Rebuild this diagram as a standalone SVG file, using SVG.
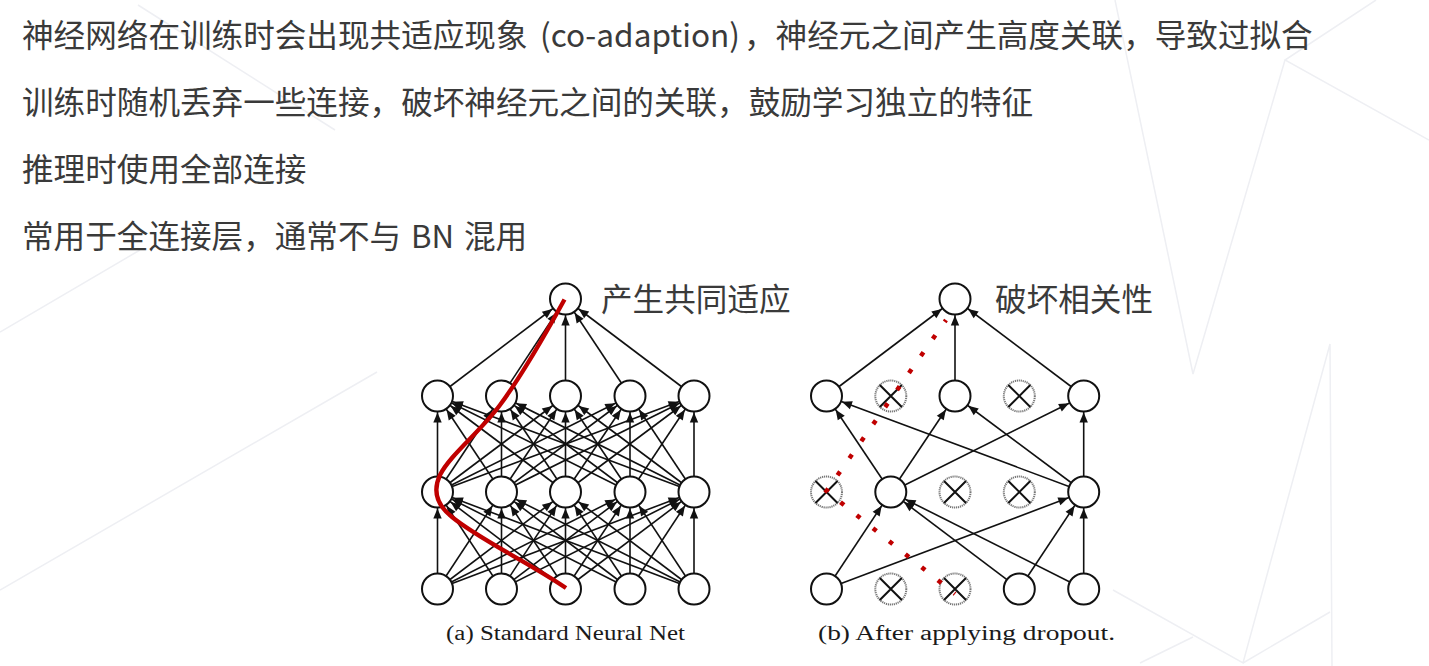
<svg xmlns="http://www.w3.org/2000/svg" width="1429" height="666" viewBox="0 0 1429 666">
<defs>
<style>
.bg{stroke:#eeeff3;stroke-width:1.5;fill:none}
.t{font-family:"Noto Sans CJK SC","Microsoft YaHei",sans-serif;font-size:31.6px;fill:#3a3a3a}
.cap{font-family:"Liberation Serif","Times New Roman",serif;font-size:20.5px;fill:#1a1a1a}
.e{stroke:#111;stroke-width:1.6;marker-end:url(#ah)}
.n{fill:#fff;stroke:#111;stroke-width:2}
.d{fill:#fff;stroke:#777;stroke-width:2;stroke-dasharray:1.2 0.8}
.x{stroke:#111;stroke-width:2}
</style>
<marker id="ah" markerUnits="userSpaceOnUse" markerWidth="40" markerHeight="20" refX="0" refY="0" orient="auto" overflow="visible">
<path d="M-26.5,-4.2 L-16.5,0 L-26.5,4.2 z" fill="#111"/>
</marker>
</defs>
<rect width="1429" height="666" fill="#fff"/>
<g id="background">
<path class="bg" d="M1376,0 L1285,60 L1429,140"/>
<path class="bg" d="M1285,60 L1193,374 L1115,0"/>
<path class="bg" d="M1332,666 L1330,344 L1243,663 L1113,590"/>
<path class="bg" d="M1243,663 L1330,612"/>
<path class="bg" d="M1140,663 L1193,637"/>
<path class="bg" d="M0,332 L140,250"/>
<path class="bg" d="M0,590 L377,372"/>
<path class="bg" d="M138,5 L335,130"/>
</g>
<g id="text">
<text class="t" x="22" y="47">神经网络在训练时会出现共适应现象</text>
<text class="t" x="540" y="47" textLength="200" lengthAdjust="spacingAndGlyphs">(co-adaption)</text>
<text class="t" x="744" y="47">，神经元之间产生高度关联，导致过拟合</text>
<text class="t" x="22" y="114">训练时随机丢弃一些连接，破坏神经元之间的关联，鼓励学习独立的特征</text>
<text class="t" x="22" y="181">推理时使用全部连接</text>
<text class="t" x="22" y="248">常用于全连接层，通常不与</text>
<text class="t" x="411" y="248" textLength="43" lengthAdjust="spacingAndGlyphs">BN</text>
<text class="t" x="464" y="248">混用</text>
<text class="t" x="601" y="311">产生共同适应</text>
<text class="t" x="995" y="311">破坏相关性</text>
<text class="cap" x="446" y="640" textLength="239" lengthAdjust="spacingAndGlyphs">(a) Standard Neural Net</text>
<text class="cap" x="818" y="640" textLength="297" lengthAdjust="spacingAndGlyphs">(b) After applying dropout.</text>
</g>
<g id="connectors">
<line class="e" x1="437.5" y1="396" x2="565.5" y2="299"/>
<line class="e" x1="501.5" y1="396" x2="565.5" y2="299"/>
<line class="e" x1="565.5" y1="396" x2="565.5" y2="299"/>
<line class="e" x1="630" y1="396" x2="565.5" y2="299"/>
<line class="e" x1="694" y1="396" x2="565.5" y2="299"/>
<line class="e" x1="437.5" y1="492" x2="437.5" y2="396"/>
<line class="e" x1="437.5" y1="492" x2="501.5" y2="396"/>
<line class="e" x1="437.5" y1="492" x2="565.5" y2="396"/>
<line class="e" x1="437.5" y1="492" x2="630" y2="396"/>
<line class="e" x1="437.5" y1="492" x2="694" y2="396"/>
<line class="e" x1="501.5" y1="492" x2="437.5" y2="396"/>
<line class="e" x1="501.5" y1="492" x2="501.5" y2="396"/>
<line class="e" x1="501.5" y1="492" x2="565.5" y2="396"/>
<line class="e" x1="501.5" y1="492" x2="630" y2="396"/>
<line class="e" x1="501.5" y1="492" x2="694" y2="396"/>
<line class="e" x1="565.5" y1="492" x2="437.5" y2="396"/>
<line class="e" x1="565.5" y1="492" x2="501.5" y2="396"/>
<line class="e" x1="565.5" y1="492" x2="565.5" y2="396"/>
<line class="e" x1="565.5" y1="492" x2="630" y2="396"/>
<line class="e" x1="565.5" y1="492" x2="694" y2="396"/>
<line class="e" x1="630" y1="492" x2="437.5" y2="396"/>
<line class="e" x1="630" y1="492" x2="501.5" y2="396"/>
<line class="e" x1="630" y1="492" x2="565.5" y2="396"/>
<line class="e" x1="630" y1="492" x2="630" y2="396"/>
<line class="e" x1="630" y1="492" x2="694" y2="396"/>
<line class="e" x1="694" y1="492" x2="437.5" y2="396"/>
<line class="e" x1="694" y1="492" x2="501.5" y2="396"/>
<line class="e" x1="694" y1="492" x2="565.5" y2="396"/>
<line class="e" x1="694" y1="492" x2="630" y2="396"/>
<line class="e" x1="694" y1="492" x2="694" y2="396"/>
<line class="e" x1="437.5" y1="589" x2="437.5" y2="492"/>
<line class="e" x1="437.5" y1="589" x2="501.5" y2="492"/>
<line class="e" x1="437.5" y1="589" x2="565.5" y2="492"/>
<line class="e" x1="437.5" y1="589" x2="630" y2="492"/>
<line class="e" x1="437.5" y1="589" x2="694" y2="492"/>
<line class="e" x1="501.5" y1="589" x2="437.5" y2="492"/>
<line class="e" x1="501.5" y1="589" x2="501.5" y2="492"/>
<line class="e" x1="501.5" y1="589" x2="565.5" y2="492"/>
<line class="e" x1="501.5" y1="589" x2="630" y2="492"/>
<line class="e" x1="501.5" y1="589" x2="694" y2="492"/>
<line class="e" x1="565.5" y1="589" x2="437.5" y2="492"/>
<line class="e" x1="565.5" y1="589" x2="501.5" y2="492"/>
<line class="e" x1="565.5" y1="589" x2="565.5" y2="492"/>
<line class="e" x1="565.5" y1="589" x2="630" y2="492"/>
<line class="e" x1="565.5" y1="589" x2="694" y2="492"/>
<line class="e" x1="630" y1="589" x2="437.5" y2="492"/>
<line class="e" x1="630" y1="589" x2="501.5" y2="492"/>
<line class="e" x1="630" y1="589" x2="565.5" y2="492"/>
<line class="e" x1="630" y1="589" x2="630" y2="492"/>
<line class="e" x1="630" y1="589" x2="694" y2="492"/>
<line class="e" x1="694" y1="589" x2="437.5" y2="492"/>
<line class="e" x1="694" y1="589" x2="501.5" y2="492"/>
<line class="e" x1="694" y1="589" x2="565.5" y2="492"/>
<line class="e" x1="694" y1="589" x2="630" y2="492"/>
<line class="e" x1="694" y1="589" x2="694" y2="492"/>
<line class="e" x1="826.5" y1="396" x2="955" y2="299"/>
<line class="e" x1="955" y1="396" x2="955" y2="299"/>
<line class="e" x1="1083.7" y1="396" x2="955" y2="299"/>
<line class="e" x1="890.8" y1="492" x2="826.5" y2="396"/>
<line class="e" x1="890.8" y1="492" x2="955" y2="396"/>
<line class="e" x1="890.8" y1="492" x2="1083.7" y2="396"/>
<line class="e" x1="1083.7" y1="492" x2="826.5" y2="396"/>
<line class="e" x1="1083.7" y1="492" x2="955" y2="396"/>
<line class="e" x1="1083.7" y1="492" x2="1083.7" y2="396"/>
<line class="e" x1="826.5" y1="589" x2="890.8" y2="492"/>
<line class="e" x1="826.5" y1="589" x2="1083.7" y2="492"/>
<line class="e" x1="1019.3" y1="589" x2="890.8" y2="492"/>
<line class="e" x1="1019.3" y1="589" x2="1083.7" y2="492"/>
<line class="e" x1="1083.7" y1="589" x2="890.8" y2="492"/>
<line class="e" x1="1083.7" y1="589" x2="1083.7" y2="492"/>
</g>
<g id="left-net">
<circle id="L-top" class="n" cx="565.5" cy="299" r="15.5"/>
<g id="L-h1">
<circle class="n" cx="437.5" cy="396" r="15.5"/>
<circle class="n" cx="501.5" cy="396" r="15.5"/>
<circle class="n" cx="565.5" cy="396" r="15.5"/>
<circle class="n" cx="630" cy="396" r="15.5"/>
<circle class="n" cx="694" cy="396" r="15.5"/>
</g>
<g id="L-h2">
<circle class="n" cx="437.5" cy="492" r="15.5"/>
<circle class="n" cx="501.5" cy="492" r="15.5"/>
<circle class="n" cx="565.5" cy="492" r="15.5"/>
<circle class="n" cx="630" cy="492" r="15.5"/>
<circle class="n" cx="694" cy="492" r="15.5"/>
</g>
<g id="L-in">
<circle class="n" cx="437.5" cy="589" r="15.5"/>
<circle class="n" cx="501.5" cy="589" r="15.5"/>
<circle class="n" cx="565.5" cy="589" r="15.5"/>
<circle class="n" cx="630" cy="589" r="15.5"/>
<circle class="n" cx="694" cy="589" r="15.5"/>
</g>
</g>
<g id="right-net">
<circle id="R-top" class="n" cx="955" cy="299" r="15.5"/>
<g id="R-h1">
<circle class="n" cx="826.5" cy="396" r="15.5"/>
<g><circle class="d" cx="890.8" cy="396" r="15.5"/><path class="x" d="M879.8,385 L901.8,407 M901.8,385 L879.8,407"/></g>
<circle class="n" cx="955" cy="396" r="15.5"/>
<g><circle class="d" cx="1019.3" cy="396" r="15.5"/><path class="x" d="M1008.3,385 L1030.3,407 M1030.3,385 L1008.3,407"/></g>
<circle class="n" cx="1083.7" cy="396" r="15.5"/>
</g>
<g id="R-h2">
<g><circle class="d" cx="826.5" cy="492" r="15.5"/><path class="x" d="M815.5,481 L837.5,503 M837.5,481 L815.5,503"/></g>
<circle class="n" cx="890.8" cy="492" r="15.5"/>
<g><circle class="d" cx="955" cy="492" r="15.5"/><path class="x" d="M944,481 L966,503 M966,481 L944,503"/></g>
<g><circle class="d" cx="1019.3" cy="492" r="15.5"/><path class="x" d="M1008.3,481 L1030.3,503 M1030.3,481 L1008.3,503"/></g>
<circle class="n" cx="1083.7" cy="492" r="15.5"/>
</g>
<g id="R-in">
<circle class="n" cx="826.5" cy="589" r="15.5"/>
<g><circle class="d" cx="890.8" cy="589" r="15.5"/><path class="x" d="M879.8,578 L901.8,600 M901.8,578 L879.8,600"/></g>
<g><circle class="d" cx="955" cy="589" r="15.5"/><path class="x" d="M944,578 L966,600 M966,578 L944,600"/></g>
<circle class="n" cx="1019.3" cy="589" r="15.5"/>
<circle class="n" cx="1083.7" cy="589" r="15.5"/>
</g>
</g>
<g id="highlights">
<path d="M564.5,299.5 C545,335 520,378 500,405 C480,432 450,455 440,475 C432,492 438,506 452,517 C480,540 530,563 566,588" fill="none" stroke="#c00000" stroke-width="4.3"/>
<path d="M946,320 L826.5,491 L955,594" fill="none" stroke="#c00000" stroke-width="4.5" stroke-dasharray="4.5 16.3" stroke-dashoffset="2.25"/>
</g>
</svg>
